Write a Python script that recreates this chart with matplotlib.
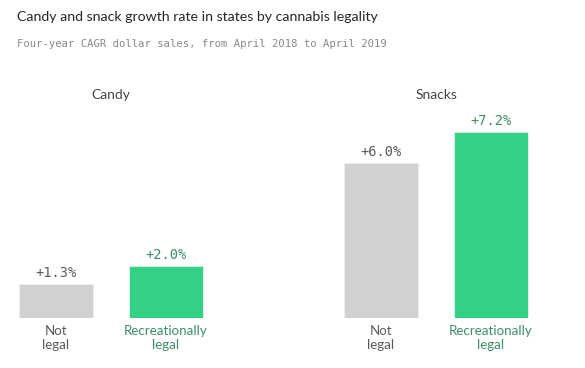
import numpy as np
import matplotlib.pyplot as plt

# data
groups = ["Candy", "Snacks"]
categories = ["Not\nlegal", "Recreationally\nlegal"]
candy = [1.3, 2.0]
snacks = [6.0, 7.2]
values = [candy, snacks]

bar_colors = ["#d0d1d0", "#33d186"]
text_colors = ["#5a5a5a", "#3b8f64"]

fig = plt.figure(figsize=(5.85, 3.68), dpi=100)
ax = fig.add_axes([0, 50 / 368, 1, 318 / 368])
ax.set_xlim(-56 / 110, (585 - 56) / 110)
ax.set_ylim(0, 318 / 25.8)
ax.axis("off")

group_step = 2.955
for g, name in enumerate(groups):
    xs = g * group_step + np.arange(len(categories))
    for x, v, bc, tc, cat in zip(xs, values[g], bar_colors, text_colors, categories):
        ax.bar(x, v, width=0.67, color=bc, edgecolor="#eeeeee", linewidth=0.6)
        ax.annotate(f"+{v:.1f}%", (x, v), xytext=(0, 3), textcoords="offset points",
                    ha="center", va="bottom", fontsize=9.8, color=tc,
                    family="DejaVu Sans Mono")
        ax.annotate(cat, (x, 0), xytext=(0, -5), textcoords="offset points",
                    ha="center", va="top", fontsize=9.6, color=tc,
                    family="Lato", linespacing=1.25)
    ax.annotate(name, (xs.mean(), 0), xycoords=("data", "figure fraction"),
                xytext=(0, 368 - 95), textcoords="offset pixels",
                ha="center", va="center", fontsize=10, color="#444444",
                family="Lato")

fig.text(17 / 585, 1 - 17 / 368, "Candy and snack growth rate in states by cannabis legality",
         ha="left", va="center", fontsize=10.2, color="#262626", family="Lato")
fig.text(17 / 585, 1 - 44 / 368, "Four-year CAGR dollar sales, from April 2018 to April 2019",
         ha="left", va="center", fontsize=7.6, color="#888888", family="DejaVu Sans Mono")

fig.savefig("out.png", dpi=100)
